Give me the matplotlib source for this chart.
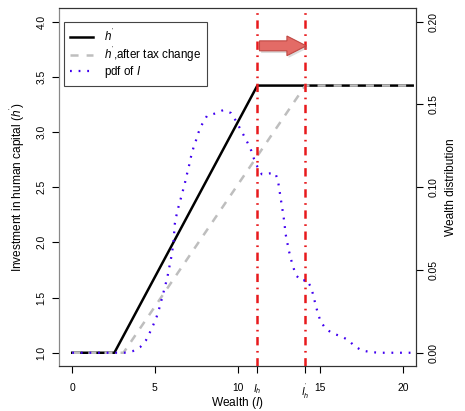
import numpy as np
import matplotlib
matplotlib.use("Agg")
from matplotlib import pyplot as plt
from matplotlib.patches import FancyArrow
from matplotlib.lines import Line2D

plt.rcParams.update({
    'font.family': ['Liberation Sans', 'DejaVu Sans'],
    'font.size': 8.6,
    'mathtext.fontset': 'custom',
    'mathtext.rm': 'Liberation Sans',
    'mathtext.it': 'Liberation Sans:italic',
    'lines.scale_dashes': False,
    'xtick.labelsize': 7.4,
    'ytick.labelsize': 7.4,
})

# investment rule before and after the tax change
wealth_h = [0, 2.55, 11.2, 20.6]
h_prime = [1.0, 1.0, 3.42, 3.42]
wealth_h_tax = [0, 3.1, 14.1, 20.6]
h_prime_tax = [1.0, 1.0, 3.42, 3.42]

# thresholds
I_h = 11.2
I_h_tax = 14.1

# wealth density
wealth_pdf = [0, 3.15, 3.67, 4.11, 4.46, 4.68, 4.9, 5.1, 5.26, 5.4, 5.53, 5.67,
              5.79, 5.89, 5.99, 6.07, 6.13, 6.21, 6.31, 6.43, 6.57, 6.71, 6.84,
              6.96, 7.08, 7.2, 7.34, 7.48, 7.64, 7.86, 8.15, 8.65, 9.13, 9.6,
              9.88, 10.1, 10.35, 10.6, 10.83, 10.99, 11.21, 11.47, 11.94, 12.3,
              12.46, 12.54, 12.62, 12.7, 12.78, 12.85, 12.9, 13.0, 13.1, 13.23,
              13.37, 13.55, 13.87, 14.2, 14.46, 14.6, 14.72, 14.86, 15.02, 15.32,
              15.74, 16.23, 16.7, 17.08, 17.52, 18.05, 18.6, 20.6]
pdf = [0, 0, 0.001, 0.0034, 0.0075, 0.0119, 0.0167, 0.0215, 0.0266, 0.0318,
       0.0368, 0.0422, 0.0473, 0.0525, 0.0576, 0.0626, 0.0674, 0.078, 0.0831,
       0.0881, 0.0932, 0.0984, 0.1034, 0.1086, 0.1135, 0.119, 0.124, 0.128,
       0.133, 0.138, 0.143, 0.1445, 0.1465, 0.1448, 0.1404, 0.1364, 0.1318,
       0.127, 0.1221, 0.1173, 0.1122, 0.1078, 0.1083, 0.1083, 0.1032, 0.098,
       0.0928, 0.0877, 0.0827, 0.0775, 0.0722, 0.0672, 0.062, 0.0567, 0.0517,
       0.0467, 0.0433, 0.0441, 0.0392, 0.0342, 0.029, 0.024, 0.0191, 0.0147,
       0.0117, 0.0101, 0.0077, 0.004, 0.0014, 0.0004, 0.0, 0.0]

xticks = [0, 5, 10, I_h, I_h_tax, 15, 20]
xticklabels = ['0', '5', '10', r'$I_h$', r"$I_h^{'}$", '15', '20']

blue = '#4000F0'
red = '#E8191C'
gray = '#BEBEBE'

fig = plt.figure(figsize=(4.65, 4.11), dpi=100)
ax = fig.add_axes((59/465, 45/411, 357/465, 357.7/411))

ax.plot(wealth_h, h_prime, color='black', lw=1.8, zorder=2)
ax.plot(wealth_h_tax, h_prime_tax, color=gray, lw=1.8, dashes=(5.8, 5.8), zorder=3)
for xv in [I_h, I_h_tax]:
    ax.axvline(xv, color=red, lw=1.8, dashes=(6, 4, 1.2, 4), zorder=4)

ax.set_xlim(-0.8, 20.8)
ax.set_ylim(0.88, 4.12)
ax.set_xticks(xticks)
ax.set_xticklabels(xticklabels)
ax.set_yticks(np.arange(1.0, 4.01, 0.5))
ax.set_yticklabels(['%.1f' % v for v in np.arange(1.0, 4.01, 0.5)],
                   rotation=90, va='center')
ax.tick_params(axis='both', length=5, width=0.8, direction='out')
ax.tick_params(axis='x', pad=7)
ax.tick_params(axis='y', pad=4)
ax.set_xlabel(r'Wealth ($I$)')
ax.xaxis.set_label_coords(0.5, -0.082)
ax.set_ylabel(r"Investment in human capital ($h^{'}$)", labelpad=7)
for s in ['top', 'bottom', 'right']:
    ax.spines[s].set_color('#333333')
ax.spines['left'].set_color('#888888')

# shift of the threshold, with a soft shadow underneath
shadow = FancyArrow(11.43, 3.76, 2.83, 0, width=0.09, head_width=0.178,
                    head_length=1.17, length_includes_head=True,
                    facecolor='#999999', edgecolor='none', alpha=0.35, zorder=5)
ax.add_patch(shadow)
arr = FancyArrow(11.33, 3.78, 2.83, 0, width=0.09, head_width=0.178,
                 head_length=1.17, length_includes_head=True,
                 facecolor='#E36B66', edgecolor='#C04843', lw=0.8, zorder=6)
ax.add_patch(arr)

ax2 = ax.twinx()
ax2.plot(wealth_pdf, pdf, color=blue, lw=1.6, dashes=(1.3, 4.9), zorder=3)
ax2.set_ylim(-0.008, 0.208)
ax2.set_yticks(np.arange(0, 0.201, 0.05))
ax2.set_yticklabels(['%.2f' % v for v in np.arange(0, 0.201, 0.05)],
                    rotation=90, va='center')
ax2.tick_params(axis='y', length=5, width=0.8, pad=4)
ax2.set_ylabel('Wealth distribution', labelpad=5)
for s in ['top', 'bottom', 'right']:
    ax2.spines[s].set_color('#333333')
ax2.spines['left'].set_color('#888888')

handles = [
    Line2D([], [], color='black', lw=1.8),
    Line2D([], [], color=gray, lw=1.8, dashes=(5.8, 5.8)),
    Line2D([], [], color=blue, lw=1.6, dashes=(1.3, 4.9)),
]
labels = [r"$h^{'}$", r"$h^{'}$,after tax change", r'pdf of $I$']
leg = ax2.legend(handles, labels, loc='upper left',
                 bbox_to_anchor=(64/465, 1 - 21.7/411),
                 bbox_transform=fig.transFigure, fontsize=8.4,
                 fancybox=False, framealpha=1, edgecolor='#444444',
                 handlelength=2.0, handletextpad=0.9, labelspacing=0.0,
                 borderpad=0.5, borderaxespad=0)
leg.get_frame().set_linewidth(0.8)

fig.savefig('out.png', dpi=100)
